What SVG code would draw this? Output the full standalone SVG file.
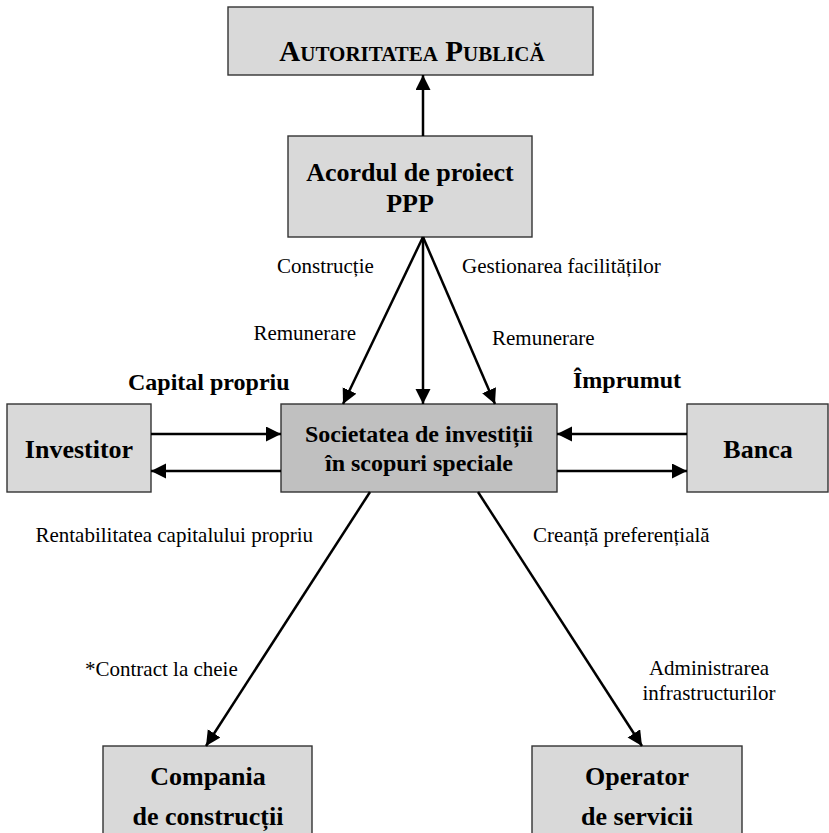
<svg xmlns="http://www.w3.org/2000/svg" width="829" height="833" viewBox="0 0 829 833">
<defs>
<marker id="ah" markerUnits="userSpaceOnUse" markerWidth="16" markerHeight="16" refX="15" refY="7.5" orient="auto">
<path d="M0,0 L15,7.5 L0,15 z" fill="#000"/>
</marker>
<style>
.box{fill:#d9d9d9;stroke:#333;stroke-width:1.4}
.dark{fill:#c0c0c0}
.nt{font-family:"Liberation Serif","Times New Roman",serif;font-weight:bold;font-size:26px;fill:#000;text-anchor:middle}
.lb{font-family:"Liberation Serif","Times New Roman",serif;font-size:21px;fill:#000}
.bl{font-family:"Liberation Serif","Times New Roman",serif;font-weight:bold;font-size:24px;fill:#000}
.cn line{stroke:#000;stroke-width:2.5;marker-end:url(#ah)}
</style>
</defs>
<rect width="829" height="833" fill="#fff"/>
<g id="autoritatea">
<rect class="box" x="228" y="7" width="365" height="68"/>
<text class="nt" x="412" y="61" style="font-size:29px">A<tspan style="font-size:21px">UTORITATEA</tspan> P<tspan style="font-size:21px">UBLICĂ</tspan></text>
</g>
<g id="acordul">
<rect class="box" x="288" y="136" width="244" height="101"/>
<text class="nt" x="410" y="181">Acordul de proiect</text>
<text class="nt" x="410" y="212">PPP</text>
</g>
<g id="societatea">
<rect class="box dark" x="281" y="404" width="276" height="88"/>
<text class="nt" x="419" y="442" style="font-size:24px">Societatea de investiții</text>
<text class="nt" x="419" y="471" style="font-size:24px">în scopuri speciale</text>
</g>
<g id="investitor">
<rect class="box" x="7" y="404" width="144" height="88"/>
<text class="nt" x="79" y="458">Investitor</text>
</g>
<g id="banca">
<rect class="box" x="687" y="404" width="141" height="88"/>
<text class="nt" x="758" y="458">Banca</text>
</g>
<g id="compania">
<rect class="box" x="103" y="746" width="209" height="100"/>
<text class="nt" x="208" y="785">Compania</text>
<text class="nt" x="208" y="825">de construcții</text>
</g>
<g id="operator">
<rect class="box" x="532" y="746" width="210" height="100"/>
<text class="nt" x="637" y="785">Operator</text>
<text class="nt" x="637" y="825">de servicii</text>
</g>
<g id="connectors" class="cn">
<line x1="423" y1="136" x2="423" y2="75"/>
<line x1="423" y1="237" x2="343" y2="404"/>
<line x1="423" y1="237" x2="423" y2="404"/>
<line x1="423" y1="237" x2="495" y2="404"/>
<line x1="151" y1="434" x2="281" y2="434"/>
<line x1="281" y1="471" x2="151" y2="471"/>
<line x1="687" y1="434" x2="557" y2="434"/>
<line x1="557" y1="471" x2="687" y2="471"/>
<line x1="370" y1="492" x2="206" y2="746"/>
<line x1="478" y1="492" x2="642" y2="746"/>
</g>
<g id="labels">
<text class="lb" x="277" y="273">Construcție</text>
<text class="lb" x="462" y="273">Gestionarea facilităților</text>
<text class="lb" x="356" y="340" text-anchor="end">Remunerare</text>
<text class="lb" x="492" y="345">Remunerare</text>
<text class="bl" x="128" y="390">Capital propriu</text>
<text class="bl" x="573" y="388">Împrumut</text>
<text class="lb" x="313" y="542" text-anchor="end">Rentabilitatea capitalului propriu</text>
<text class="lb" x="533" y="542">Creanță preferențială</text>
<text class="lb" x="85" y="676">*Contract la cheie</text>
<text class="lb" x="709" y="675" text-anchor="middle">Administrarea</text>
<text class="lb" x="709" y="700" text-anchor="middle">infrastructurilor</text>
</g>
</svg>
